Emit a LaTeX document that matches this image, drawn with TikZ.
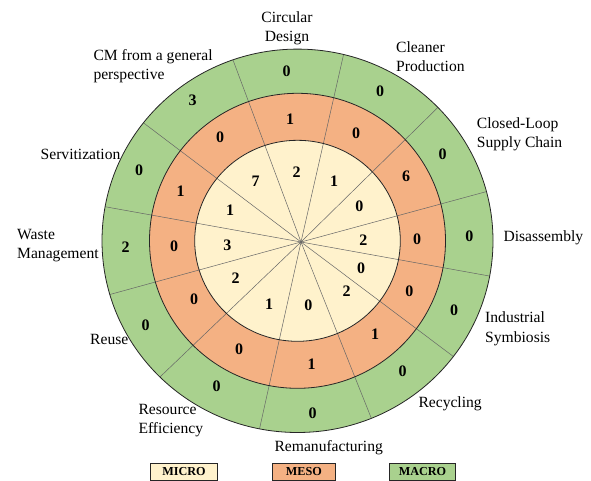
\documentclass[tikz,border=0pt]{standalone}
\usepackage{fontspec}
\setmainfont{Liberation Serif}
\usetikzlibrary{calc}
\definecolor{macro}{HTML}{A9D18E}
\definecolor{meso}{HTML}{F4B183}
\definecolor{micro}{HTML}{FFF2CC}
\begin{document}
\begin{tikzpicture}[x=1pt,y=-1pt,
  lab/.style={font=\fontsize{15.6}{19.2}\selectfont, inner sep=0pt, align=left, anchor=west},
  num/.style={font=\fontsize{16}{18}\selectfont\bfseries, inner sep=0pt},
  spoke/.style={draw=black!60, line width=0.5pt},
  ring/.style={draw=black!85, line width=0.8pt},
  legbox/.style={draw=black!85, line width=1pt, minimum height=16.7pt, inner sep=0pt, font=\fontsize{12.2}{14}\selectfont\bfseries}
]
\useasboundingbox (0,0) rectangle (591,481);
\coordinate (c) at (297.5,240.8);
\coordinate (cv) at (301,242);
% rings
\fill[macro] (c) ellipse [x radius=195.5pt, y radius=191.7pt];
\fill[meso] (c) ellipse [x radius=148pt, y radius=147.5pt];
\fill[micro] (c) ellipse [x radius=102.8pt, y radius=100.5pt];
% spokes
\coordinate (s1) at (233,60);
\coordinate (s2) at (342.7,58.3);
\coordinate (s3) at (436,109.3);
\coordinate (s4) at (486,191.7);
\coordinate (s5) at (489.3,276);
\coordinate (s6) at (452.7,356);
\coordinate (s7) at (370.7,416.7);
\coordinate (s8) at (260,426.7);
\coordinate (s9) at (161,376);
\coordinate (s10) at (111.7,294);
\coordinate (s11) at (105,206.7);
\coordinate (s12) at (145,124);
\begin{scope}
\clip (c) ellipse [x radius=195.5pt, y radius=191.7pt];
\foreach \i in {1,...,12}{
  \draw[spoke] (cv) -- ($(cv)!1.1!(s\i)$);
}
\end{scope}
\draw[ring] (c) ellipse [x radius=195.5pt, y radius=191.7pt];
\draw[ring] (c) ellipse [x radius=148pt, y radius=147.5pt];
\draw[ring] (c) ellipse [x radius=102.8pt, y radius=100.5pt];
% numbers: macro ring
\node[num] (g1) at (286.7,71.7) {0};
\node[num] (g2) at (380,91) {0};
\node[num] (g3) at (442.7,154) {0};
\node[num] (g4) at (469.3,236.7) {0};
\node[num] (g5) at (454,310) {0};
\node[num] (g6) at (402.7,371.7) {0};
\node[num] (g7) at (312.5,413.3) {0};
\node[num] (g8) at (216.7,386.7) {0};
\node[num] (g9) at (145.7,325) {0};
\node[num] (g10) at (125.7,247.3) {2};
\node[num] (g11) at (139,170) {0};
\node[num] (g12) at (192.7,100.7) {3};
% meso ring
\node[num] (o1) at (290,119.3) {1};
\node[num] (o2) at (356,133.3) {0};
\node[num] (o3) at (406,176) {6};
\node[num] (o4) at (417,239.3) {0};
\node[num] (o5) at (409.3,291) {0};
\node[num] (o6) at (375,334.3) {1};
\node[num] (o7) at (311.7,364) {1};
\node[num] (o8) at (239,349.3) {0};
\node[num] (o9) at (194,299.3) {0};
\node[num] (o10) at (174,246) {0};
\node[num] (o11) at (180.7,191) {1};
\node[num] (o12) at (220,137.3) {0};
% micro ring
\node[num] (m1) at (296.7,172.7) {2};
\node[num] (m2) at (334,181) {1};
\node[num] (m3) at (359.3,206.7) {0};
\node[num] (m4) at (363.3,240.7) {2};
\node[num] (m5) at (361,268.3) {0};
\node[num] (m6) at (346.7,291.7) {2};
\node[num] (m7) at (308.3,305) {0};
\node[num] (m8) at (269,304) {1};
\node[num] (m9) at (235.7,278.3) {2};
\node[num] (m10) at (227.3,245) {3};
\node[num] (m11) at (230,210) {1};
\node[num] (m12) at (255.7,181.7) {7};
% labels
\node[lab, align=center, anchor=center] (l1) at (287,28) {Circular\\Design};
\node[lab] (l2) at (396,57) {Cleaner\\Production};
\node[lab] (l3) at (476.7,134) {Closed-Loop\\Supply Chain};
\node[lab] (l4) at (503.3,238) {Disassembly};
\node[lab] (l5) at (485,328.8) {Industrial\\Symbiosis};
\node[lab] (l6) at (418.3,404) {Recycling};
\node[lab, anchor=center] (l7) at (328.7,447.5) {Remanufacturing};
\node[lab] (l8) at (138.3,420.8) {Resource\\Efficiency};
\node[lab] (l9) at (90,339.3) {Reuse};
\node[lab] (l10) at (17,245.5) {Waste\\Management};
\node[lab] (l11) at (40.5,154) {Servitization};
\node[lab] (l12) at (93.3,66.3) {CM from a general\\perspective};
% legend
\node[legbox, fill=micro, minimum width=66.6pt] (k1) at (184,471.7) {MICRO};
\node[legbox, fill=meso, minimum width=62.3pt] (k2) at (303.9,471.7) {MESO};
\node[legbox, fill=macro, minimum width=66.4pt] (k3) at (422.5,471.7) {MACRO};
\end{tikzpicture}
\end{document}
